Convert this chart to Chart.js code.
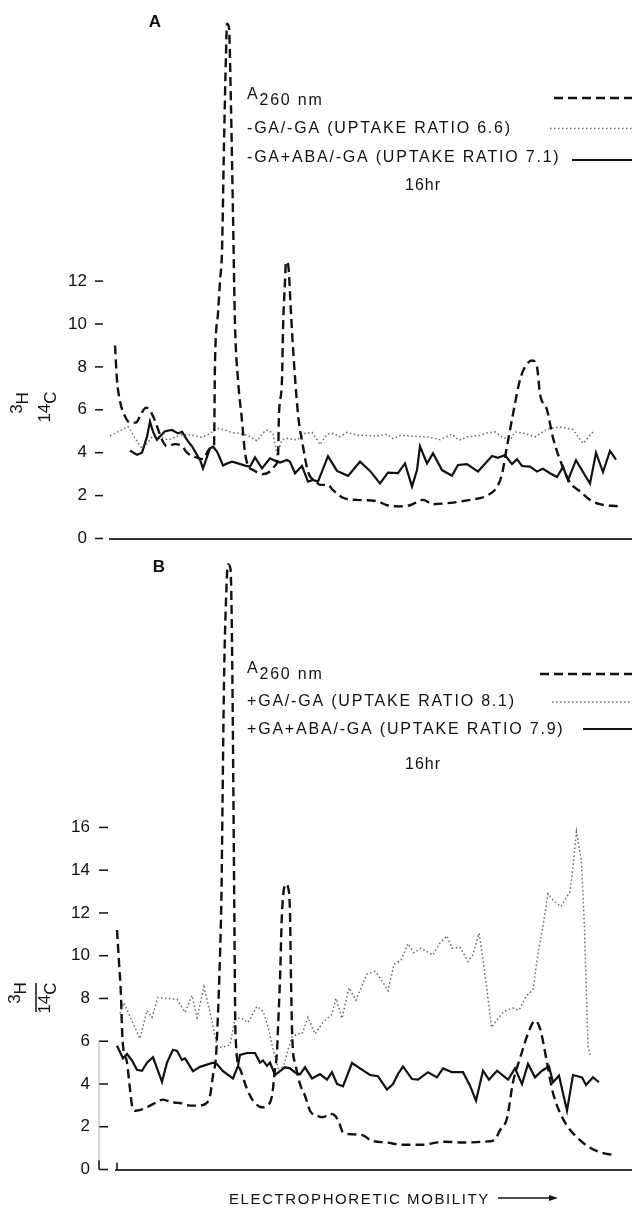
<!DOCTYPE html>
<html>
<head>
<meta charset="utf-8">
<script src="https://cdn.jsdelivr.net/npm/chart.js@4.4.1/dist/chart.umd.min.js"></script>
<style>
  html, body { margin: 0; padding: 0; background: #fff; }
  body { width: 632px; height: 1209px; position: relative; overflow: hidden; }
  #chartA { position: absolute; left: 0; top: 0; }
  #chartB { position: absolute; left: 0; top: 545px; }
</style>
</head>
<body>
<canvas id="chartA" width="632" height="560"></canvas>
<canvas id="chartB" width="632" height="664"></canvas>
<script>
// Electrophoretic mobility (arbitrary distance units, no tick labels on the axis)
// and 3H/14C ratio.

// ---- Panel A ----
const a260MobA = [115,117,120,125,130,136,141,146,150,154,158,162,167,175,182,187,195,203,210,214,215,218,220,222,224,226,227,229,231,233,235,238,242,245,248,253,263,272,275,278,279,282,283,285,286,288,291,293,298,303,307,310,315,320,328,333,343,357,377,387,400,410,423,433,450,470,487,497,502,507,513,520,525,532,537,540,547,553,563,570,580,590,600,618];
const a260A = [9.0,7.4,6.4,5.7,5.4,5.4,5.8,6.1,5.95,5.6,5.1,4.6,4.3,4.4,4.3,4.0,3.8,3.7,4.2,4.3,8.2,10.5,12.0,13.4,18.4,22.6,24.0,23.8,20.1,15.1,10.0,7.4,5.5,4.0,3.4,3.2,3.0,3.2,3.4,3.8,5.8,7.4,9.7,12.0,12.9,12.8,10.5,8.9,5.8,4.3,3.3,2.9,2.7,2.5,2.5,2.25,1.9,1.8,1.74,1.55,1.5,1.55,1.8,1.6,1.66,1.8,2.0,2.4,3.0,4.3,5.8,7.4,8.0,8.3,8.0,6.75,6.0,4.7,3.3,2.6,2.2,1.8,1.6,1.5];

const minusGaMob = [110,118,128,135,142,147,152,160,168,180,192,202,210,217,225,233,240,248,257,263,268,273,277,282,287,297,305,312,320,327,333,340,347,357,367,377,387,393,400,413,427,440,452,459,467,480,487,495,502,510,515,523,535,548,560,573,583,593];
const minusGaRatio = [4.78,4.98,5.22,4.67,4.2,4.43,4.75,4.75,4.59,4.82,4.82,4.71,4.9,5.13,5.06,4.93,4.9,4.8,4.55,4.93,5.06,4.9,3.95,4.6,4.67,4.59,4.9,4.95,4.38,4.86,4.9,4.75,4.95,4.82,4.8,4.77,4.86,4.66,4.81,4.77,4.74,4.61,4.86,4.58,4.74,4.81,4.92,4.97,4.74,4.58,4.97,4.92,4.74,5.12,5.2,5.08,4.43,4.97];

const minusGaAbaMob = [130,137,142,147,150,153,157,160,165,172,178,182,187,192,197,200,203,207,210,213,217,220,223,227,232,238,245,250,255,262,270,275,280,287,290,295,302,308,313,318,328,337,348,360,370,380,388,398,405,412,417,420,427,433,442,452,458,467,478,492,498,505,512,517,522,530,537,543,550,557,563,568,576,583,590,596,603,610,616];
const minusGaAbaRatio = [4.1,3.9,4.0,4.75,5.45,4.98,4.6,4.75,5.0,5.06,4.9,4.98,4.6,4.3,3.9,3.66,3.27,3.8,4.2,4.28,4.05,3.74,3.4,3.5,3.58,3.5,3.4,3.35,3.78,3.27,3.74,3.63,3.54,3.66,3.58,3.04,3.38,2.65,2.73,2.65,3.84,3.15,2.92,3.58,3.15,2.57,3.07,3.05,3.5,2.42,3.19,4.3,3.5,3.97,3.19,2.93,3.43,3.47,3.12,3.85,3.76,3.89,3.47,3.7,3.38,3.35,3.12,3.25,3.04,2.87,3.34,2.72,3.65,3.1,2.56,3.99,3.1,4.08,3.68];

// ---- Panel B ----
const a260MobB = [117,119,121,122,123,127,130,132,135,143,153,163,172,180,188,197,205,210,213,216,218,220,221.5,222.5,224,226,228,230.5,232,233.5,234.5,235.5,240,247,253,262,267,272,275,277,278,280,282,286,288,290,291,292,293,295,300,305,310,318,323,330,335,339,343,351,363,371,387,403,423,443,464,484,494,500,507,513,520,530,535,540,547,552,557,567,577,589,601,613];
const a260B = [11.2,9.7,8.1,6.6,5.8,5.0,3.76,3.0,2.75,2.83,3.06,3.27,3.14,3.11,3.0,2.99,3.06,3.45,4.4,5.3,7.3,10.0,13.0,17.0,22.8,26.6,28.3,28.1,24.7,17.0,11.0,6.3,4.7,3.77,3.22,2.91,2.99,3.45,4.7,5.5,6.6,8.9,12.0,13.35,13.2,12.0,8.9,6.6,5.5,5.0,4.0,3.45,2.75,2.5,2.45,2.6,2.52,2.2,1.74,1.65,1.6,1.36,1.26,1.16,1.16,1.3,1.26,1.3,1.36,1.84,2.4,4.08,5.2,6.6,6.96,6.6,5.0,3.77,2.99,2.05,1.5,1.05,0.8,0.68];

const plusGaMob = [120,124,131,140,147,152,158,167,177,185,192,197,204,211,217,222,230,235,241,248,257,263,268,273,279,284,288,292,298,302,308,315,323,332,336,342,349,356,367,375,381,388,394,401,408,414,421,433,440,447,452,460,468,473,479,483,487,491.5,497,504,513,519,526,533,538,543,548,553,561,570,573,576.5,581.5,584.5,586.5,588,590.5];
const plusGaRatio = [7.3,7.8,7.04,6.12,7.43,7.11,8.05,8.0,7.96,7.35,8.14,7.1,8.55,7.15,5.79,5.71,5.83,7.04,7.1,6.87,7.63,7.4,6.7,5.63,4.6,4.9,5.6,6.2,6.35,6.34,7.12,6.34,6.88,7.27,8.0,7.07,8.5,7.92,9.15,9.27,8.91,8.36,9.6,9.78,10.57,10.14,10.35,10.03,10.6,10.92,10.35,10.4,9.72,10.05,11.05,9.85,8.4,6.65,7.0,7.4,7.55,7.45,8.1,8.4,10.1,11.4,12.9,12.6,12.3,13.0,14.2,15.8,14.4,11.3,8.1,5.8,5.3];

const plusGaAbaMob = [117,123,127,132,137,142,147,153,162,167,173,177,182,185,193,200,213,217,223,233,238,240,247,255,260,263,267,270,275,280,285,290,295,300,305,312,320,327,332,337,343,352,360,370,378,387,393,398,403,412,418,428,437,443,452,463,470,476,483,489,497,508,515,522,528,535,542,549,553,559,567,573,582,586,593,599];
const plusGaAbaRatio = [5.79,5.2,5.4,5.1,4.66,4.62,5.0,5.25,4.1,5.0,5.6,5.55,5.12,5.2,4.6,4.8,5.0,4.93,4.6,4.26,4.85,5.36,5.45,5.45,5.0,5.1,4.85,5.0,4.42,4.6,4.78,4.73,4.54,4.45,4.78,4.26,4.46,4.2,4.55,4.0,3.89,4.98,4.73,4.42,4.36,3.74,4.0,4.47,4.82,4.23,4.2,4.55,4.31,4.73,4.55,4.55,3.92,3.22,4.62,4.2,4.62,4.2,4.73,4.0,4.94,4.31,4.62,4.82,4.08,4.39,2.75,4.42,4.31,3.95,4.31,4.08];

const yTicksA = [0, 2, 4, 6, 8, 10, 12];
const yTicksB = [0, 2, 4, 6, 8, 10, 12, 14, 16];

const labelsA = ["A260 nm", "-GA/-GA (UPTAKE RATIO 6.6)", "-GA+ABA/-GA (UPTAKE RATIO 7.1)"];
const labelsB = ["A260 nm", "+GA/-GA (UPTAKE RATIO 8.1)", "+GA+ABA/-GA (UPTAKE RATIO 7.9)"];

const FONT = '"Liberation Sans", Arial, sans-serif';
const INK = "#111";

function zip(xs, ys) {
    return xs.map((x, i) => ({ x, y: ys[i] }));
}

// line styles shared by both panels
function dashedSet(label, xs, ys) {
    return { label, data: zip(xs, ys), borderColor: INK, borderWidth: 2.4, borderDash: [9, 5],
             pointRadius: 0, cubicInterpolationMode: "monotone", fill: false, order: 1 };
}
function dottedSet(label, xs, ys) {
    return { label, data: zip(xs, ys), borderColor: "#666", borderWidth: 1.5, borderDash: [1.5, 2.5],
             pointRadius: 0, tension: 0, fill: false, order: 3 };
}
function solidSet(label, xs, ys) {
    return { label, data: zip(xs, ys), borderColor: INK, borderWidth: 2.2, borderDash: [],
             pointRadius: 0, tension: 0, fill: false, order: 2 };
}

function setFont(ctx, size, weight) {
    ctx.font = `${weight || "normal"} ${size}px ${FONT}`;
}

// Draws "3H / 14C" rotated, with the isotope numbers raised.
function drawRotatedIsotope(ctx, cx, cy, sup, main) {
    ctx.save();
    ctx.translate(cx, cy);
    ctx.rotate(-Math.PI / 2);
    setFont(ctx, 17);
    ctx.textBaseline = "middle";
    ctx.textAlign = "left";
    const ws = ctx.measureText(sup).width;
    const wm = ctx.measureText(main).width;
    const x0 = -(ws + wm) / 2;
    ctx.fillText(sup, x0, -5);
    ctx.fillText(main, x0 + ws, 1);
    ctx.restore();
}

// Panel decorations: tick marks, letter, custom legend, y title, x title.
const decoPlugin = {
    id: "deco",
    afterDraw(chart, args, opts) {
        const { ctx, chartArea, scales } = chart;
        const y = scales.y;
        ctx.save();
        ctx.fillStyle = INK;
        ctx.strokeStyle = INK;

        // y tick marks, set a little away from the axis start
        ctx.lineWidth = 1.5;
        y.ticks.forEach(t => {
            const py = y.getPixelForValue(t.value);
            ctx.beginPath();
            ctx.moveTo(chartArea.left - opts.tickFrom, py);
            ctx.lineTo(chartArea.left - opts.tickTo, py);
            ctx.stroke();
        });

        if (opts.faintAxisTop != null) {
            const xa = chartArea.left - opts.tickFrom;
            ctx.strokeStyle = "#aaa";
            ctx.lineWidth = 1;
            ctx.beginPath();
            ctx.moveTo(xa, y.getPixelForValue(opts.faintAxisTop));
            ctx.lineTo(xa, y.getPixelForValue(0));
            ctx.stroke();
            ctx.strokeStyle = INK;
            ctx.lineWidth = 1.5;
            ctx.beginPath();
            ctx.moveTo(xa, y.getPixelForValue(0) - 9);
            ctx.lineTo(xa, y.getPixelForValue(0));
            ctx.moveTo(chartArea.left + 1, y.getPixelForValue(0) - 7);
            ctx.lineTo(chartArea.left + 1, y.getPixelForValue(0));
            ctx.stroke();
        }

        // panel letter
        setFont(ctx, 17, "bold");
        ctx.textAlign = "center";
        ctx.textBaseline = "middle";
        ctx.fillText(opts.letter.text, opts.letter.x, opts.letter.y);

        // legend: text on the left, line sample on the right
        ctx.textAlign = "left";
        ctx.letterSpacing = "1.8px";
        chart.data.datasets.forEach((ds, i) => {
            const it = opts.legend[i];
            setFont(ctx, 16);
            ctx.fillStyle = INK;
            if (i === 0) {
                // "A" with the wavelength set lower: A260 nm
                ctx.fillText("A", opts.legendX, it.textY - 4);
                const wa = ctx.measureText("A").width;
                ctx.fillText(ds.label.slice(1), opts.legendX + wa, it.textY + 2);
            } else {
                ctx.fillText(ds.label, opts.legendX, it.textY);
            }
            ctx.save();
            ctx.strokeStyle = ds.borderColor;
            ctx.lineWidth = ds.borderWidth;
            ctx.setLineDash(ds.borderDash || []);
            ctx.beginPath();
            ctx.moveTo(it.lineX, it.lineY);
            ctx.lineTo(chart.width, it.lineY);
            ctx.stroke();
            ctx.restore();
        });

        setFont(ctx, 16);
        ctx.letterSpacing = "1px";
        ctx.textAlign = "center";
        ctx.fillText(opts.note.text, opts.note.x, opts.note.y);
        ctx.letterSpacing = "0px";

        // y title 3H / 14C
        const yt = opts.yTitle;
        drawRotatedIsotope(ctx, yt.x1, yt.y1, "3", "H");
        drawRotatedIsotope(ctx, yt.x2, yt.y2, "14", "C");
        if (yt.bar) {
            ctx.lineWidth = 1.5;
            ctx.beginPath();
            ctx.moveTo(yt.bar.x, yt.bar.y1);
            ctx.lineTo(yt.bar.x, yt.bar.y2);
            ctx.stroke();
        }

        // x title with arrow
        if (opts.xTitle) {
            const xt = opts.xTitle;
            setFont(ctx, 15);
            ctx.letterSpacing = "1.6px";
            ctx.textAlign = "left";
            ctx.fillText(xt.text, xt.x, xt.y);
            ctx.letterSpacing = "0px";
            ctx.lineWidth = 1.5;
            ctx.beginPath();
            ctx.moveTo(xt.arrowX1, xt.y - 2);
            ctx.lineTo(xt.arrowX2 - 4, xt.y - 2);
            ctx.stroke();
            ctx.beginPath();
            ctx.moveTo(xt.arrowX2, xt.y - 2);
            ctx.lineTo(xt.arrowX2 - 9, xt.y - 5);
            ctx.lineTo(xt.arrowX2 - 9, xt.y + 1);
            ctx.closePath();
            ctx.fill();
        }
        ctx.restore();
    }
};

function makeScales(cfg) {
    return {
        x: {
            type: "linear",
            min: cfg.xMin,
            max: cfg.xMax,
            ticks: { display: false },
            grid: { display: false, drawTicks: false },
            border: { display: true, color: "#333", width: 2 },
            afterFit: s => { s.height = cfg.xAxisHeight; s.paddingLeft = 0; s.paddingRight = 0; },
        },
        y: {
            type: "linear",
            min: 0,
            max: cfg.yMax,
            afterBuildTicks: s => { s.ticks = cfg.yTicks.map(v => ({ value: v })); },
            ticks: { color: INK, font: { family: FONT, size: 17 }, padding: cfg.labelPad },
            grid: { display: false, drawTicks: false },
            border: { display: false },
            afterFit: s => { s.width = cfg.yAxisWidth; s.paddingTop = 0; s.paddingBottom = 0; },
        },
    };
}

function baseOptions(cfg, deco) {
    return {
        responsive: false,
        animation: false,
        events: [],
        layout: { padding: { top: cfg.padTop, left: 0, right: 0, bottom: 0 } },
        scales: makeScales(cfg),
        plugins: { legend: { display: false }, tooltip: { enabled: false }, deco },
    };
}

new Chart(document.getElementById("chartA"), {
    type: "line",
    data: {
        datasets: [
            dashedSet(labelsA[0], a260MobA, a260A),
            dottedSet(labelsA[1], minusGaMob, minusGaRatio),
            solidSet(labelsA[2], minusGaAbaMob, minusGaAbaRatio),
        ],
    },
    options: baseOptions(
        { xMin: 110, xMax: 632, yMax: 25, yTicks: yTicksA, padTop: 2.25,
          xAxisHeight: 21.5, yAxisWidth: 110, labelPad: 23 },
        {
            tickFrom: 15, tickTo: 7,
            letter: { text: "A", x: 155, y: 22 },
            legendX: 247,
            legend: [
                { textY: 99, lineX: 554, lineY: 98 },
                { textY: 128.5, lineX: 550, lineY: 128.5 },
                { textY: 158, lineX: 572, lineY: 160 },
            ],
            note: { text: "16hr", x: 423, y: 186 },
            yTitle: { x1: 22, y1: 403, x2: 50, y2: 407 },
        }),
    plugins: [decoPlugin],
});

new Chart(document.getElementById("chartB"), {
    type: "line",
    data: {
        datasets: [
            dashedSet(labelsB[0], a260MobB, a260B),
            dottedSet(labelsB[1], plusGaMob, plusGaRatio),
            solidSet(labelsB[2], plusGaAbaMob, plusGaAbaRatio),
        ],
    },
    options: baseOptions(
        { xMin: 116, xMax: 632, yMax: 29, yTicks: yTicksB, padTop: 4.5,
          xAxisHeight: 39.5, yAxisWidth: 116, labelPad: 26 },
        {
            tickFrom: 17, tickTo: 8,
            faintAxisTop: 6,
            letter: { text: "B", x: 159, y: 22.5 },
            legendX: 247,
            legend: [
                { textY: 128, lineX: 540, lineY: 129 },
                { textY: 157, lineX: 552, lineY: 157 },
                { textY: 185, lineX: 583, lineY: 184 },
            ],
            note: { text: "16hr", x: 423, y: 220 },
            yTitle: { x1: 20, y1: 448, x2: 50, y2: 453, bar: { x: 36, y1: 438, y2: 467 } },
            xTitle: { text: "ELECTROPHORETIC MOBILITY", x: 229, y: 655, arrowX1: 498, arrowX2: 558 },
        }),
    plugins: [decoPlugin],
});
</script>
</body>
</html>
